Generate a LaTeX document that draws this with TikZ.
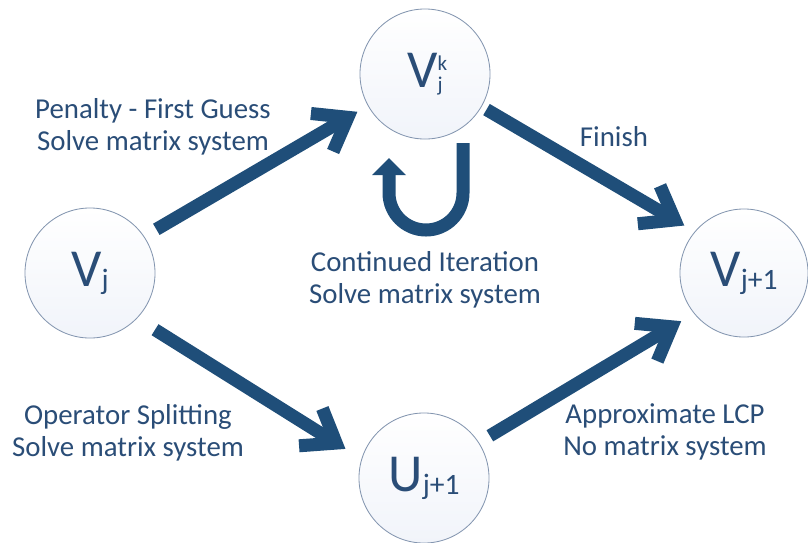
\documentclass[tikz,border=0pt]{standalone}
\usepackage{fontspec}
\setmainfont{Carlito}
\usetikzlibrary{arrows.meta,calc}
\definecolor{ink}{HTML}{2A4D77}
\definecolor{flowblue}{HTML}{1F4E79}
\definecolor{rim}{HTML}{8496B0}
\definecolor{tint}{HTML}{F1F4FA}
% small index letters inside the circles
\newcommand{\lowidx}[1]{\raisebox{-2pt}{\fontsize{21}{21}\selectfont #1}}
\newcommand{\twoidx}[2]{\rlap{\raisebox{12pt}{\fontsize{15}{15}\selectfont #1}}\raisebox{-3pt}{\fontsize{15}{15}\selectfont #2}}
\begin{document}
\begin{tikzpicture}[x=0.025cm, y=-0.025cm, line join=round,
		state/.style={circle, draw=rim, line width=0.6pt, top color=white, bottom color=tint, inner sep=0pt, minimum size=#1, text=ink, font=\fontsize{38}{38}\selectfont},
		state/.default=3.25cm,
		lbl/.style={align=center, text=ink, font=\fontsize{20.5}{23}\selectfont},
		flow/.style={draw=flowblue, line width=0.325cm, -{Straight Barb[sharp, length=0.75cm, width=1.1cm]}},
		turn/.style={draw=flowblue, line width=0.325cm, -{Triangle[length=0.43cm, width=0.85cm, line width=0pt]}}]
	\useasboundingbox (0,0) rectangle (808,542);
	% the four states
	\node[state] (vj) at (90,273) {V\lowidx{j}};
	\node[state] (vjk) at (425,74) {V\twoidx{k}{j}};
	\node[state=3.2cm] (vj1) at (744,273) {V\lowidx{j+1}};
	\node[state] (uj1) at (424,478) {U\lowidx{j+1}};
	% transitions
	\draw[flow, shorten <=0.35cm, shorten >=0.3cm] (vj.34.7) -- (vjk.209.2);
	\draw[flow, shorten <=0.14cm, shorten >=0.3cm] (vjk.-30.1) -- (vj1.140.9);
	\draw[flow, shorten <=0.53cm, shorten >=0.47cm] (vj.-44) -- (uj1.163);
	\draw[flow, shorten <=0.32cm, shorten >=0.37cm] (uj1.33.1) -- (vj1.219.3);
	% iterate on the same state
	\draw[turn] ([shift={(38,69)}]vjk.center) -- ++(0,50) arc (0:180:37) -- ++(0,-35);
	% labels
	\node[lbl] (guess) at (153,127) {Penalty - First Guess\\Solve matrix system};
	\node[lbl] (finish) at (614,137) {Finish};
	\node[lbl] (iter) at (425,280) {Continued Iteration\\Solve matrix system};
	\node[lbl] (split) at (128,433) {Operator Splitting\\Solve matrix system};
	\node[lbl] (lcp) at (665,432) {Approximate LCP\\No matrix system};
\end{tikzpicture}
\end{document}
